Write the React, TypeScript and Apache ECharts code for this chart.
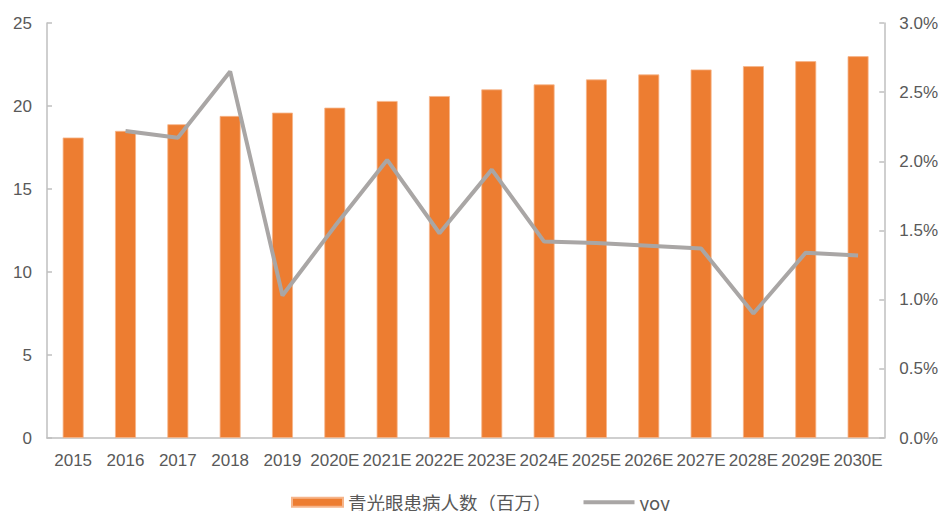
import React, { useEffect, useRef } from "react";
import * as echarts from "echarts";

const categories = ["2015", "2016", "2017", "2018", "2019", "2020E", "2021E", "2022E", "2023E", "2024E", "2025E", "2026E", "2027E", "2028E", "2029E", "2030E"];
const patients = [18.1, 18.5, 18.9, 19.4, 19.6, 19.9, 20.3, 20.6, 21.0, 21.3, 21.6, 21.9, 22.2, 22.4, 22.7, 23.0];
const yoy = [null, 2.22, 2.17, 2.65, 1.03, 1.53, 2.01, 1.48, 1.94, 1.42, 1.41, 1.39, 1.37, 0.9, 1.34, 1.32];
const leftTicks = { min: 0, max: 25, interval: 5 };
const rightTicks = { min: 0, max: 3, interval: 0.5 };
const barName = "青光眼患病人数（百万）";
const lineName = "yoy";

export default function App() {
  const ref = useRef<HTMLDivElement>(null);
  useEffect(() => {
    const chart = echarts.init(ref.current!, null, { renderer: "svg" });
    const font = "'Liberation Sans', Arial, sans-serif";
    const axisColor = "#BFBFBF";
    const textColor = "#595959";
    chart.setOption({
      animation: false,
      textStyle: { fontFamily: font },
      grid: { left: 47, right: 50, top: 23, bottom: 73, containLabel: false },
      legend: {
        left: 286,
        top: 488,
        itemWidth: 51,
        itemHeight: 9,
        itemGap: 30,
        textStyle: { fontSize: 18.5, color: textColor, fontFamily: "'Noto Sans CJK SC', " + font },
        data: [
          { name: barName, icon: "rect" },
          { name: lineName, itemStyle: { opacity: 0 }, lineStyle: { color: "#A9A6A5", width: 4 } },
        ],
      },
      xAxis: {
        type: "category",
        data: categories,
        axisLine: { show: true, lineStyle: { color: axisColor, width: 1.5 } },
        axisTick: { show: false },
        axisLabel: { color: textColor, fontSize: 17, margin: 14, interval: 0 },
      },
      yAxis: [
        {
          type: "value",
          ...leftTicks,
          axisLine: { show: true, lineStyle: { color: axisColor, width: 1.5 } },
          axisTick: { show: true, inside: true, length: 5, lineStyle: { color: axisColor, width: 1.5 } },
          splitLine: { show: false },
          axisLabel: { color: textColor, fontSize: 17, margin: 15 },
        },
        {
          type: "value",
          ...rightTicks,
          axisLine: { show: true, lineStyle: { color: axisColor, width: 1.5 } },
          axisTick: { show: true, inside: true, length: 5, lineStyle: { color: axisColor, width: 1.5 } },
          splitLine: { show: false },
          axisLabel: { color: textColor, fontSize: 17, margin: 15, formatter: (v: number) => v.toFixed(1) + "%" },
        },
      ],
      series: [
        {
          name: barName,
          type: "bar",
          data: patients,
          barWidth: "40%",
          itemStyle: { color: "#ED7D31", borderColor: "#F6B58A", borderWidth: 0.8 },
        },
        {
          name: lineName,
          type: "line",
          yAxisIndex: 1,
          data: yoy,
          symbol: "none",
          lineStyle: { color: "#A9A6A5", width: 4 },
          itemStyle: { color: "#A9A6A5" },
        },
      ],
    });
    return () => chart.dispose();
  }, []);
  return <div ref={ref} style={{ position: "absolute", left: 0, top: 0, width: 941, height: 511 }} />;
}
